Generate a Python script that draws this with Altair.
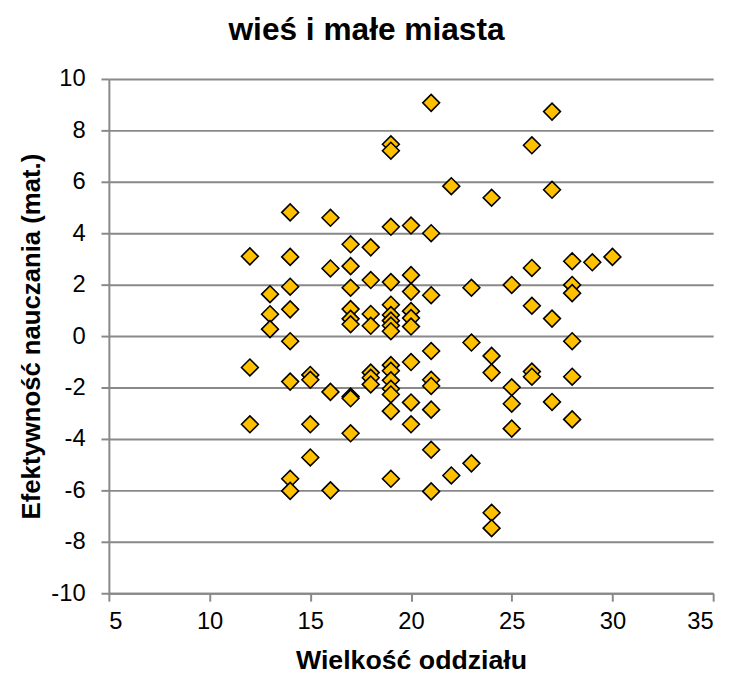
import altair as alt
import pandas as pd

# Class size (Wielkość oddziału)
class_size = (
    [12] * 3 + [13] * 3 + [14] * 8 + [15] * 4 + [16] * 4 + [17] * 9 + [18] * 7
    + [19] * 16 + [20] * 9 + [21] * 9 + [22] * 2 + [23] * 3 + [24] * 5
    + [25] * 4 + [26] * 5 + [27] * 4 + [28] * 6 + [29] * 1 + [30] * 1
)

# Teaching effectiveness (Efektywność nauczania (mat.))
effectiveness = [
    3.10, -1.22, -3.43,                                   # 12
    1.63, 0.85, 0.27,                                     # 13
    4.81, 3.08, 1.92, 1.04, -0.20, -1.77, -5.55, -6.02,   # 14
    -1.51, -1.70, -3.43, -4.72,                           # 15
    4.60, 2.63, -2.17, -6.00,                             # 16
    3.57, 2.72, 1.88, 1.05, 0.67, 0.46, -2.35, -2.42, -3.78,  # 17
    3.45, 2.18, 0.86, 0.40, -1.42, -1.62, -1.88,          # 18
    7.46, 7.21, 4.25, 2.10, 1.22, 0.82, 0.60, 0.41, 0.19,
    -1.13, -1.35, -1.72, -2.05, -2.27, -2.92, -5.55,      # 19
    4.30, 2.37, 1.73, 0.97, 0.70, 0.37, -1.01, -2.58, -3.43,  # 20
    9.07, 4.00, 1.59, -0.58, -1.70, -1.94, -2.86, -4.42, -6.04,  # 21
    5.83, -5.42,                                          # 22
    1.88, -0.25, -4.95,                                   # 23
    5.38, -0.77, -1.42, -6.87, -7.47,                     # 24
    1.99, -1.99, -2.63, -3.60,                            # 25
    7.42, 2.65, 1.18, -1.38, -1.58,                       # 26
    8.73, 5.69, 0.68, -2.56,                              # 27
    2.91, 1.99, 1.67, -0.20, -1.58, -3.24,                # 28
    2.87,                                                 # 29
    3.08,                                                 # 30
]

x_ticks = [5, 10, 15, 20, 25, 30, 35]
y_ticks = [-10, -8, -6, -4, -2, 0, 2, 4, 6, 8, 10]

df = pd.DataFrame({"x": class_size, "y": effectiveness})

FONT = "Liberation Sans"
GRAY = "#898989"

chart = (
    alt.Chart(df)
    .mark_point(
        shape="diamond",
        filled=True,
        color="#FFC000",
        stroke="#000000",
        strokeWidth=1.6,
        size=290,
        opacity=1,
    )
    .encode(
        x=alt.X(
            "x:Q",
            scale=alt.Scale(domain=[5, 35], nice=False, zero=False),
            axis=alt.Axis(
                values=x_ticks,
                grid=False,
                title="Wielkość oddziału",
                titleFontSize=27,
                labelPadding=9,
                titlePadding=14,
                labelExpr="'' + datum.value",
            ),
        ),
        y=alt.Y(
            "y:Q",
            scale=alt.Scale(domain=[-10, 10], nice=False, zero=False),
            axis=alt.Axis(
                values=y_ticks,
                grid=True,
                title="Efektywność nauczania (mat.)",
                titleFontSize=26,
                labelPadding=16,
                titlePadding=6,
                labelExpr="'' + datum.value",
            ),
        ),
    )
    .properties(
        width=611,
        height=520,
        title=alt.Title(
            "wieś i małe miasta",
            font=FONT,
            fontSize=32,
            fontWeight="bold",
            color="#000000",
            anchor="middle",
            dx=-45,
            offset=20,
        ),
        autosize=alt.AutoSizeParams(type="none"),
        padding={"left": 102, "top": 68, "right": 15, "bottom": 84},
    )
    .configure_view(stroke=None)
    .configure_axis(
        labelFont=FONT,
        labelFontSize=24,
        labelColor="#000000",
        titleFont=FONT,
        titleFontWeight="bold",
        titleColor="#000000",
        domainColor=GRAY,
        domainWidth=2,
        tickColor=GRAY,
        tickWidth=2,
        tickSize=8,
        gridColor=GRAY,
        gridWidth=2,
    )
)

chart.save("out.html", embed_options={"renderer": "svg", "actions": False})
